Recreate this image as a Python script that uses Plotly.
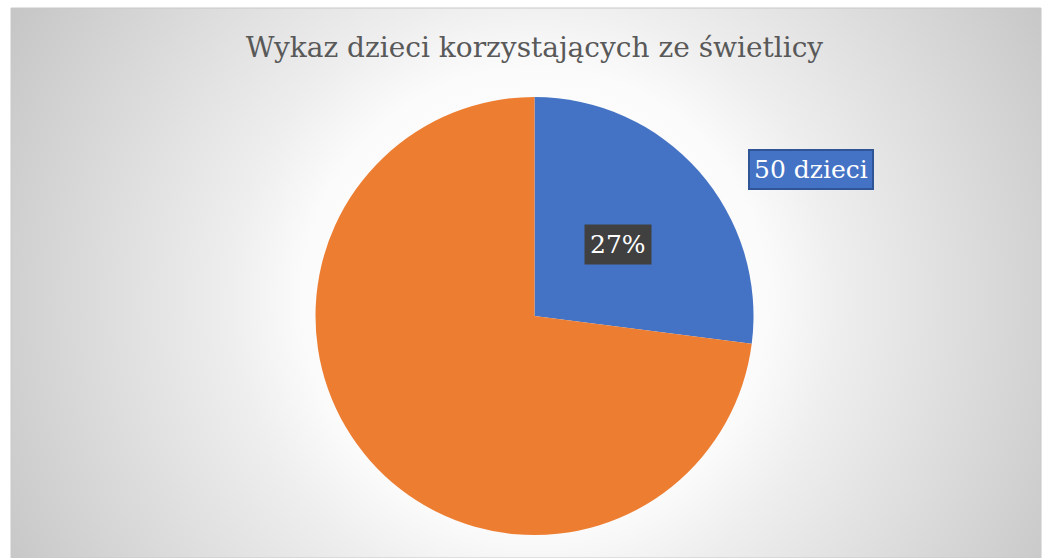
import plotly.graph_objects as go

# Data
categories = ["korzystające", "niekorzystające"]
values = [50, 135]
colors = ["#4472C4", "#ED7D31"]
title_text = "Wykaz dzieci korzystających ze świetlicy"
value_label_suffix = " dzieci"

W, H = 1042, 558
total = sum(values)
pct = round(values[0] / total * 100)

# chart box (pixels)
bx0, by0, bx1, by1 = 11, 8, 1041, 558

fig = go.Figure()

# background radial gradient (decorative), clipped by the plot area
gcx, gcy, R = 534.5, 300, 610
fig.add_trace(go.Scatter(
    x=[gcx - R, gcx + R, gcx + R, gcx - R, gcx - R],
    y=[gcy - R, gcy - R, gcy + R, gcy + R, gcy - R],
    mode="lines", line=dict(width=0), fill="toself",
    fillgradient=dict(type="radial", colorscale=[
        [0, "#ffffff"], [0.38, "#fbfbfb"], [0.5, "#eeeeee"],
        [0.86, "#d0d0d0"], [1, "#c4c4c4"]]),
    hoverinfo="skip", showlegend=False,
))

cx, cy, r = 534.5, 316, 219
fig.add_trace(go.Pie(
    labels=categories, values=values, sort=False, direction="clockwise", rotation=0,
    marker=dict(colors=colors, line=dict(width=0)),
    textinfo="none", showlegend=False, hoverinfo="label+value+percent",
    domain=dict(x=[(cx - r) / W, (cx + r) / W], y=[(H - cy - r) / H, (H - cy + r) / H]),
))

serif = "DejaVu Serif"
fig.update_layout(
    width=W, height=H,
    margin=dict(l=0, r=0, t=0, b=0),
    paper_bgcolor="white", plot_bgcolor="rgba(0,0,0,0)",
    xaxis=dict(range=[bx0, bx1], domain=[bx0 / W, bx1 / W], visible=False, fixedrange=True),
    yaxis=dict(range=[by1, by0], domain=[(H - by1) / H, (H - by0) / H], visible=False, fixedrange=True),
    title=dict(text=title_text, x=534.5 / W, xanchor="center", y=1 - 47 / H, yanchor="middle",
               font=dict(family=serif, size=28, color="#595959")),
    shapes=[dict(type="rect", xref="paper", yref="paper",
                 x0=bx0 / W, y0=0, x1=bx1 / W, y1=(H - by0) / H,
                 line=dict(color="#c8c8c8", width=1))],
    annotations=[
        dict(x=618 / W, y=1 - 244 / H, xref="paper", yref="paper", xanchor="center", yanchor="middle",
             text=f"{pct}%", showarrow=False,
             font=dict(family=serif, size=25, color="white"), bgcolor="#404040", borderpad=5),
        dict(x=810.5 / W, y=1 - 169 / H, xref="paper", yref="paper", xanchor="center", yanchor="middle",
             text=f"{values[0]}{value_label_suffix}", showarrow=False,
             font=dict(family=serif, size=25, color="white"),
             bgcolor="#4472C4", bordercolor="#2F5597", borderwidth=2, borderpad=4),
    ],
)

fig.write_html("out.html", config={"displayModeBar": False},
               post_script="document.body.style.margin='0';document.body.style.overflow='hidden';")
